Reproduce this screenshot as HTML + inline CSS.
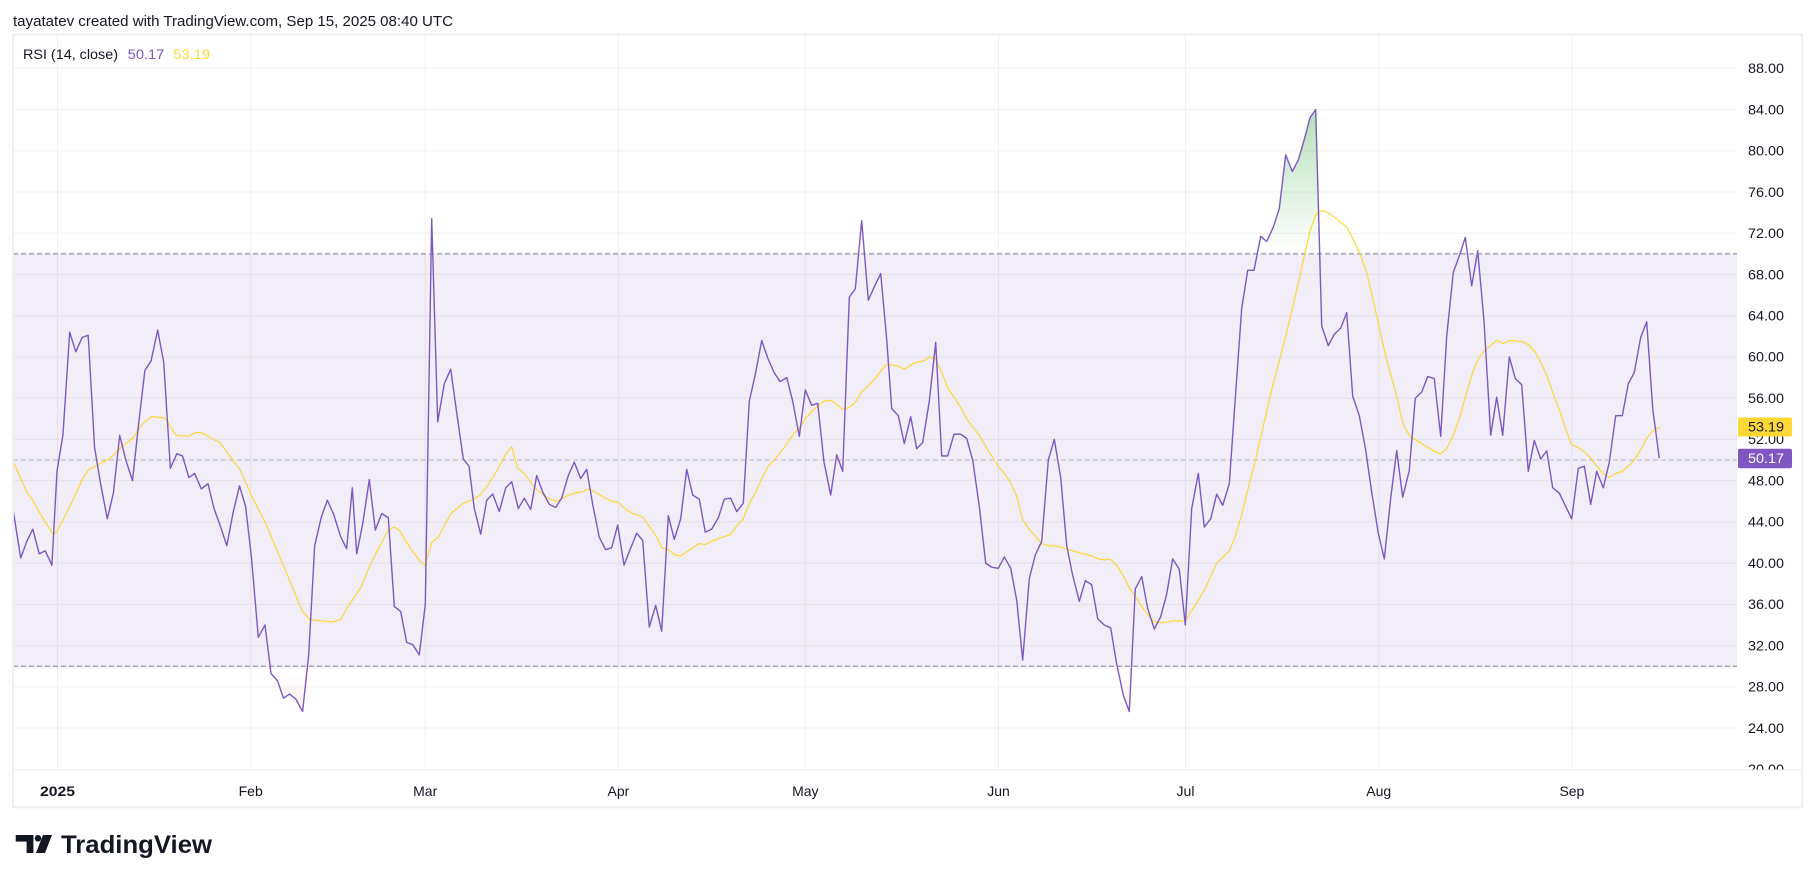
<!DOCTYPE html>
<html><head><meta charset="utf-8"><style>
html,body{margin:0;padding:0;background:#fff;}
svg{display:block;}
text{font-family:"Liberation Sans",Arial,sans-serif;}
</style></head><body>
<svg width="1815" height="883" viewBox="0 0 1815 883" xmlns="http://www.w3.org/2000/svg">
<rect x="0" y="0" width="1815" height="883" fill="#fff"/>
<text x="13" y="26" font-size="15" fill="#131722" textLength="440" lengthAdjust="spacingAndGlyphs">tayatatev created with TradingView.com, Sep 15, 2025 08:40 UTC</text>

<!-- gridlines -->
<g stroke="#F0F0F0" stroke-width="1">
<line x1="13" x2="1737" y1="728.06" y2="728.06"/>
<line x1="13" x2="1737" y1="686.83" y2="686.83"/>
<line x1="13" x2="1737" y1="645.59" y2="645.59"/>
<line x1="13" x2="1737" y1="604.36" y2="604.36"/>
<line x1="13" x2="1737" y1="563.12" y2="563.12"/>
<line x1="13" x2="1737" y1="521.88" y2="521.88"/>
<line x1="13" x2="1737" y1="480.65" y2="480.65"/>
<line x1="13" x2="1737" y1="439.41" y2="439.41"/>
<line x1="13" x2="1737" y1="398.18" y2="398.18"/>
<line x1="13" x2="1737" y1="356.94" y2="356.94"/>
<line x1="13" x2="1737" y1="315.70" y2="315.70"/>
<line x1="13" x2="1737" y1="274.47" y2="274.47"/>
<line x1="13" x2="1737" y1="233.23" y2="233.23"/>
<line x1="13" x2="1737" y1="192.00" y2="192.00"/>
<line x1="13" x2="1737" y1="150.76" y2="150.76"/>
<line x1="13" x2="1737" y1="109.52" y2="109.52"/>
<line x1="13" x2="1737" y1="68.29" y2="68.29"/>
<line x1="57.5" x2="57.5" y1="34" y2="770"/>
<line x1="250.7" x2="250.7" y1="34" y2="770"/>
<line x1="425.2" x2="425.2" y1="34" y2="770"/>
<line x1="618.4" x2="618.4" y1="34" y2="770"/>
<line x1="805.3" x2="805.3" y1="34" y2="770"/>
<line x1="998.5" x2="998.5" y1="34" y2="770"/>
<line x1="1185.5" x2="1185.5" y1="34" y2="770"/>
<line x1="1378.7" x2="1378.7" y1="34" y2="770"/>
<line x1="1571.9" x2="1571.9" y1="34" y2="770"/>
</g>
<line x1="13" x2="1802" y1="769.8" y2="769.8" stroke="#EDEDED" stroke-width="1.2"/>

<!-- band -->
<rect x="13" y="253.85" width="1724" height="412.36" fill="#7E57C2" fill-opacity="0.1"/>
<line x1="13" x2="1737" y1="253.85" y2="253.85" stroke="#787B86" stroke-width="1" stroke-dasharray="5 3"/>
<line x1="13" x2="1737" y1="666.21" y2="666.21" stroke="#787B86" stroke-width="1" stroke-dasharray="5 3"/>
<line x1="13" x2="1737" y1="460.03" y2="460.03" stroke="#787B86" stroke-opacity="0.5" stroke-width="1" stroke-dasharray="5 3"/>

<defs>
<linearGradient id="gg" gradientUnits="userSpaceOnUse" x1="0" y1="84" x2="0" y2="70">
<stop offset="0" stop-color="#4CAF50" stop-opacity="0.4"/>
<stop offset="1" stop-color="#4CAF50" stop-opacity="0"/>
</linearGradient>
<linearGradient id="rg" gradientUnits="userSpaceOnUse" x1="0" y1="30" x2="0" y2="24">
<stop offset="0" stop-color="#F23645" stop-opacity="0"/>
<stop offset="1" stop-color="#F23645" stop-opacity="0.1"/>
</linearGradient>
<clipPath id="axc"><rect x="1737" y="34" width="65" height="735.5"/></clipPath>
</defs>

<g transform="matrix(1 0 0 -10.309 0 975.48)">
<polygon fill="url(#gg)" points="1257.2,70 1260.7,71.7 1266.7,71.2 1273.3,72.6 1279.3,74.4 1285.7,79.6 1292.3,78.0 1298.3,79.1 1304.3,81.1 1310,83.2 1315.7,84.0 1319.7,70"/>
<polygon fill="url(#gg)" points="1460,70 1465.3,71.6 1467.5,70"/>
<polygon fill="url(#rg)" points="270.1,30 271,29.3 277.4,28.6 283.5,26.9 289.5,27.3 295.9,26.8 302.6,25.6 307.5,30"/>
<polygon fill="url(#rg)" points="1117.1,30 1123.3,27.2 1129.3,25.6 1131.5,30"/>

<polyline fill="none" stroke="#FDD835" stroke-width="1.2" vector-effect="non-scaling-stroke" stroke-linejoin="round" points="13.4,49.8 26.8,46.9 32.8,46.1 41.9,44.5 53,42.8 57,43.1 63.7,44.3 73.8,46.3 82.2,48.1 88.9,49.1 97.2,49.5 110.7,50.2 120.7,51.2 132.5,52.1 142.6,53.5 151,54.2 164.4,54.1 176.1,52.4 187.9,52.3 196.2,52.7 203,52.6 211.3,52.1 219.7,51.7 228.1,50.6 239.9,49.1 251.6,46.5 265,44.0 278.5,40.9 291.9,37.8 302,35.4 309.7,34.5 322.1,34.4 332.1,34.3 340.5,34.5 346.7,35.6 355,36.8 361.7,37.8 368.3,39.4 376.7,41.1 388.3,43.2 394.3,43.5 400,43.1 410,41.5 420,40.2 425,39.8 431.7,42.0 438.3,42.5 450.7,44.8 463.3,45.8 473.3,46.2 480,46.6 486.7,47.4 498.3,49.2 506,50.6 511.7,51.3 517.7,49.2 524.3,48.7 531.7,47.7 538.3,47.0 550,46.2 556.7,46.0 566.7,46.5 575,46.8 581.7,46.9 588.3,47.2 593.3,47.0 603.3,46.4 611.7,46.0 618.3,45.9 626,45.2 633.3,44.8 642.3,44.5 648.3,43.7 655,42.8 661.7,41.5 668.3,41.3 675,40.8 680.7,40.7 686.7,41.1 699.3,41.9 705.3,41.8 713.3,42.2 725,42.6 730.7,42.8 736.7,43.6 743.3,44.3 749.3,45.8 755.3,46.8 763.3,48.5 768.3,49.4 775,50.1 783.3,51.1 794,52.6 799.3,53.1 805.3,54.0 811.7,54.7 818.3,55.3 824,55.7 830.7,55.8 836.7,55.4 842.7,54.9 849.3,55.1 855.3,55.6 861.7,56.6 868.3,57.2 874.3,57.8 880.7,58.6 886.7,59.3 892.7,59.2 898.3,59.1 904.3,58.8 910.7,59.2 916.7,59.5 923.3,59.6 929.3,60.0 935.7,59.8 941.7,58.5 947.7,57.0 954,56.1 960.7,55.1 966.7,54.0 972.7,53.2 979.3,52.4 985.7,51.3 991.7,50.4 998.3,49.4 1004.3,48.7 1010,47.9 1016.7,46.5 1022.7,44.2 1030,43.2 1041.7,41.9 1048.3,41.7 1060,41.6 1068.3,41.3 1080,41.0 1091.7,40.7 1098.3,40.4 1104.3,40.3 1110,40.4 1116.7,39.8 1123.3,38.8 1129.3,37.6 1135.3,36.8 1141.7,35.8 1148.3,34.9 1155,34.3 1161.7,34.2 1173.3,34.4 1185.3,34.4 1191.7,35.4 1198.3,36.4 1205,37.5 1210.7,38.7 1216.7,40.0 1223.3,40.6 1229.3,41.2 1235,42.5 1241.7,44.7 1248.3,47.3 1255,49.8 1261.7,52.6 1268.3,55.4 1274,57.7 1280,59.9 1286.7,62.4 1293.3,65.1 1299.3,67.6 1304.3,69.8 1310,72.2 1315.7,73.8 1321.7,74.2 1328.3,74.0 1336.7,73.4 1346.7,72.6 1353.3,71.4 1360,70.0 1366.7,68.2 1373.3,65.5 1380,62.5 1386.7,59.7 1396.7,56.2 1403.3,53.4 1410,52.3 1416.7,51.9 1426.7,51.3 1435,50.8 1440.7,50.6 1446.7,51.1 1453.3,52.4 1460,54.2 1466.7,56.6 1472.7,58.5 1478.3,59.8 1485,60.7 1490.7,61.1 1496.7,61.6 1503.3,61.3 1510,61.6 1521.7,61.5 1528.3,61.2 1535,60.5 1540.7,59.5 1547.3,58.1 1553.3,56.4 1560,54.7 1565.7,53.0 1571.7,51.5 1578.3,51.2 1584.3,50.8 1590.7,50.2 1596.7,49.4 1603.3,48.7 1609.3,48.3 1615.7,48.7 1622.3,48.9 1628.3,49.4 1634.3,50.0 1640.7,51.0 1646.7,52.1 1652.7,52.8 1659.3,53.19"/>

<polyline fill="none" stroke="#7E57C2" stroke-width="1.4" vector-effect="non-scaling-stroke" stroke-linejoin="round" points="13.4,45.0 20.7,40.5 26.8,42.1 32.8,43.3 39.2,40.9 45.2,41.2 51.9,39.8 57,48.9 63,52.5 69.7,62.4 75.8,60.5 82.2,61.9 88.2,62.1 94.6,51.2 100.6,47.7 107.3,44.3 113.4,46.8 119.7,52.4 125.8,50.0 132.5,48.0 138.5,53.4 144.9,58.7 151,59.6 157.7,62.6 163.7,59.5 170.4,49.2 176.8,50.6 182.5,50.4 188.9,48.3 194.6,48.7 201.3,47.2 208,47.7 214,45.3 220.7,43.5 226.8,41.7 233.1,44.9 239.5,47.5 245.6,45.5 251.6,40.4 258.3,32.8 265,34.0 271,29.3 277.4,28.6 283.5,26.9 289.5,27.3 295.9,26.8 302.6,25.6 308.7,31.1 314.7,41.7 321.4,44.5 327.4,46.1 333.8,44.7 340.5,42.6 346.6,41.4 352.3,47.3 356.7,40.9 362.7,43.8 369.3,48.1 375.3,43.2 381.7,44.8 388.3,44.4 394.3,35.8 400.7,35.3 406.7,32.3 412.7,32.1 419.3,31.1 425.3,36.0 431.7,73.4 437.7,53.7 444.3,57.4 450.7,58.8 456.7,54.6 463.3,50.1 469,49.4 474.3,45.3 480.7,42.8 486.7,46.1 492.7,46.7 499.3,45.0 505.7,47.3 511.7,47.9 518.3,45.3 524.3,46.3 530.7,45.2 536.7,48.5 542.7,46.9 549.3,45.7 555.7,45.4 561.7,46.3 568.3,48.5 574.3,49.8 580.7,48.2 586.7,49.1 592.7,45.7 599.3,42.5 605.7,41.3 611.7,41.5 617.7,43.7 624,39.8 630,41.3 636.7,42.9 642.7,42.2 649.3,33.8 655.7,35.9 661.7,33.4 668.3,44.6 674.3,42.3 680.7,44.3 686.7,49.1 692.7,46.6 699.3,46.2 705.3,43.0 711.7,43.3 718.3,44.4 724.3,46.2 730.7,46.3 736.7,45.0 743.3,45.8 749.3,55.7 755.3,58.3 761.7,61.6 767.7,59.9 774,58.5 780,57.6 786.7,58.0 792.7,55.7 799.3,52.3 805.3,56.8 811.7,55.3 817.7,55.5 824,49.8 830.7,46.6 836.7,50.5 842.7,48.9 849.3,65.8 855.3,66.6 861.7,73.2 868.3,65.5 874.3,66.8 880.7,68.1 886.7,61.7 891.7,55.0 898.3,54.3 904.3,51.6 910.7,54.2 916.7,51.1 922.7,51.7 929.3,55.7 935.7,61.4 941.7,50.4 947.7,50.4 954,52.5 960.7,52.5 966.7,52.1 972.7,50.0 979.3,45.5 985.7,40.0 991.7,39.6 998.3,39.5 1004.3,40.6 1010.7,39.5 1016.7,36.4 1022.7,30.6 1029.3,38.5 1035.3,40.8 1041.7,42.1 1048.3,50.0 1054.3,52.0 1060.7,48.3 1066.7,41.7 1072.7,38.8 1079.3,36.3 1085.3,38.3 1091.7,37.9 1097.7,34.6 1104.3,34.0 1110.7,33.7 1116.7,30.2 1123.3,27.2 1129.3,25.6 1135.3,37.5 1141.7,38.7 1147.7,35.6 1154.3,33.6 1160.7,34.8 1166.7,37.0 1172.7,40.4 1179.3,39.4 1185.3,34.0 1191.7,45.3 1198.3,48.7 1204.3,43.5 1210.7,44.3 1216.7,46.7 1222.7,45.6 1229.3,47.7 1235,55.6 1241.7,64.7 1247.7,68.4 1254,68.4 1260.7,71.7 1266.7,71.2 1273.3,72.6 1279.3,74.4 1285.7,79.6 1292.3,78.0 1298.3,79.1 1304.3,81.1 1310,83.2 1315.7,84.0 1321.7,63.0 1328.3,61.1 1334.3,62.2 1340.7,62.8 1346.7,64.3 1352.7,56.2 1359.3,54.3 1365.3,51.2 1371.7,46.9 1378.3,42.9 1384.3,40.4 1390.7,46.3 1396.7,50.9 1402.7,46.4 1409.3,49.0 1415.3,56.0 1421.7,56.6 1427.7,58.1 1434.3,57.9 1440.7,52.3 1446.7,62.0 1453.3,68.2 1459.3,69.8 1465.3,71.6 1471.7,66.9 1477.7,70.3 1484,63.5 1490.7,52.4 1496.7,56.1 1502.7,52.4 1509.3,60.0 1515.3,57.9 1521.7,57.3 1528.3,48.9 1534.3,51.9 1540.7,50.1 1546.7,50.9 1552.7,47.3 1559.3,46.8 1565.7,45.5 1571.7,44.3 1578.3,49.2 1584.3,49.4 1590.7,45.7 1596.7,48.9 1603.3,47.3 1609.3,49.8 1615.7,54.3 1622.3,54.3 1628.3,57.4 1634.3,58.5 1640.7,61.9 1646.7,63.4 1652.7,55.0 1659.3,50.17"/>
</g>

<!-- legend -->
<text x="23" y="59" font-size="14" fill="#131722" textLength="95" lengthAdjust="spacingAndGlyphs">RSI (14, close)</text>
<text x="127.7" y="59" font-size="14" fill="#7E57C2" textLength="36.6" lengthAdjust="spacingAndGlyphs">50.17</text>
<text x="173.3" y="59" font-size="14" fill="#FDD835" textLength="36.7" lengthAdjust="spacingAndGlyphs">53.19</text>

<!-- price axis -->
<g clip-path="url(#axc)" font-size="13.5" fill="#131722">
<text x="1748" y="73.1" textLength="36" lengthAdjust="spacingAndGlyphs">88.00</text>
<text x="1748" y="114.3" textLength="36" lengthAdjust="spacingAndGlyphs">84.00</text>
<text x="1748" y="155.6" textLength="36" lengthAdjust="spacingAndGlyphs">80.00</text>
<text x="1748" y="196.8" textLength="36" lengthAdjust="spacingAndGlyphs">76.00</text>
<text x="1748" y="238.0" textLength="36" lengthAdjust="spacingAndGlyphs">72.00</text>
<text x="1748" y="279.3" textLength="36" lengthAdjust="spacingAndGlyphs">68.00</text>
<text x="1748" y="320.5" textLength="36" lengthAdjust="spacingAndGlyphs">64.00</text>
<text x="1748" y="361.7" textLength="36" lengthAdjust="spacingAndGlyphs">60.00</text>
<text x="1748" y="403.0" textLength="36" lengthAdjust="spacingAndGlyphs">56.00</text>
<text x="1748" y="444.2" textLength="36" lengthAdjust="spacingAndGlyphs">52.00</text>
<text x="1748" y="485.4" textLength="36" lengthAdjust="spacingAndGlyphs">48.00</text>
<text x="1748" y="526.7" textLength="36" lengthAdjust="spacingAndGlyphs">44.00</text>
<text x="1748" y="567.9" textLength="36" lengthAdjust="spacingAndGlyphs">40.00</text>
<text x="1748" y="609.2" textLength="36" lengthAdjust="spacingAndGlyphs">36.00</text>
<text x="1748" y="650.4" textLength="36" lengthAdjust="spacingAndGlyphs">32.00</text>
<text x="1748" y="691.6" textLength="36" lengthAdjust="spacingAndGlyphs">28.00</text>
<text x="1748" y="732.9" textLength="36" lengthAdjust="spacingAndGlyphs">24.00</text>
<text x="1748" y="774.1" textLength="36" lengthAdjust="spacingAndGlyphs">20.00</text>
</g>
<rect x="1738" y="417.5" width="54" height="19" rx="2" fill="#FDD835"/>
<text x="1748" y="431.7" font-size="13.5" fill="#131722" textLength="36" lengthAdjust="spacingAndGlyphs">53.19</text>
<rect x="1738" y="448.8" width="54" height="19.5" rx="2" fill="#7E57C2"/>
<text x="1748" y="463.2" font-size="13.5" fill="#ffffff" textLength="36" lengthAdjust="spacingAndGlyphs">50.17</text>

<!-- time axis -->
<g font-size="14" fill="#131722" text-anchor="middle">
<text x="57.5" y="796" font-weight="bold" textLength="35" lengthAdjust="spacingAndGlyphs">2025</text>
<text x="250.7" y="796">Feb</text>
<text x="425.2" y="796">Mar</text>
<text x="618.4" y="796">Apr</text>
<text x="805.3" y="796">May</text>
<text x="998.5" y="796">Jun</text>
<text x="1185.5" y="796">Jul</text>
<text x="1378.7" y="796">Aug</text>
<text x="1571.9" y="796">Sep</text>
</g>

<!-- frame -->
<rect x="13" y="34.3" width="1789" height="773" fill="none" stroke="#EFEFEF" stroke-width="2"/>

<!-- logo -->
<g fill="#131722">
<rect x="15.7" y="835" width="17.6" height="6.6"/>
<rect x="26.6" y="835" width="6.8" height="18"/>
<circle cx="38" cy="838.3" r="3.3"/>
<polygon points="43,835 52,835 45,853 36,853"/>
</g>
<text x="61" y="853" font-size="25" font-weight="bold" fill="#131722" textLength="151" lengthAdjust="spacingAndGlyphs">TradingView</text>
</svg>
</body></html>
